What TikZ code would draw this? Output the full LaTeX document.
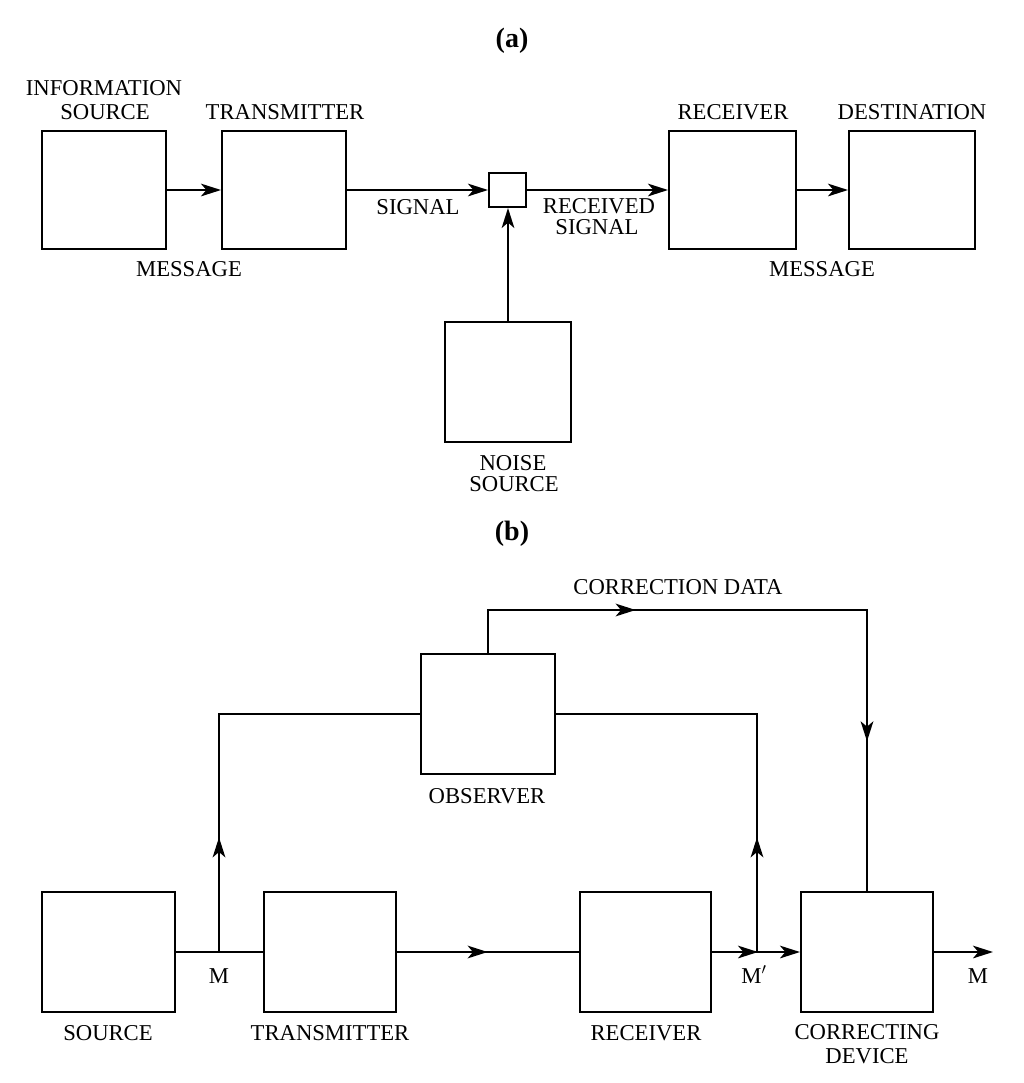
\documentclass[tikz,border=0pt]{standalone}
\usepackage{fontspec}
\setmainfont{Liberation Serif}
\usetikzlibrary{arrows.meta,decorations.markings}
\tikzset{
  arr/.tip={Stealth[length=15pt,width=9.5pt,inset=4pt]},
  conn/.style={line width=1.5pt},
  box/.style 2 args={draw,line width=1.5pt,inner sep=0pt,fill=white,
    minimum width=#1*0.75pt,minimum height=#2*0.75pt},
  lbl/.style={font=\fontsize{17}{22}\selectfont,inner sep=0pt,anchor=base},
  ttl/.style={font=\fontsize{21}{25}\selectfont\bfseries,inner sep=0pt,anchor=base},
  midarrow/.style={postaction={decorate,decoration={markings,
      mark=at position #1 with {\arrow{arr}}}}}
}
\begin{document}
\begin{tikzpicture}[x=0.75pt,y=-0.75pt]
\useasboundingbox[fill=white] (0,0) rectangle (1024,1083);
% ---------- (a) ----------
\node[ttl] (ta) at (512,47) {(a)};
\node[box={124}{118}] (is) at (104,190) {};
\node[box={124}{118}] (tr) at (284,190) {};
\node[box={37}{34}] (sm) at (507.5,190) {};
\node[box={127}{118}] (rc) at (732.5,190) {};
\node[box={126}{118}] (ds) at (912,190) {};
\node[box={126}{120}] (ns) at (508,382) {};

\node[lbl] (l1) at (104,95) {INFORMATION};
\node[lbl] (l2) at (105,119) {SOURCE};
\node[lbl] (l3) at (285,119) {TRANSMITTER};
\node[lbl] (l4) at (733,119) {RECEIVER};
\node[lbl] (l5) at (912,119) {DESTINATION};
\node[lbl] (l6) at (189,276) {MESSAGE};
\node[lbl] (l7) at (418,214) {SIGNAL};
\node[lbl] (l8) at (599,213) {RECEIVED};
\node[lbl] (l9) at (597,234) {SIGNAL};
\node[lbl] (l10) at (822,276) {MESSAGE};
\node[lbl] (l11) at (513,470) {NOISE};
\node[lbl] (l12) at (514,491) {SOURCE};

\draw[conn,-arr] (is) -- (tr);
\draw[conn,-arr] (tr) -- (sm);
\draw[conn,-arr] (sm) -- (rc);
\draw[conn,-arr] (rc) -- (ds);
\draw[conn,-arr] (ns.north) -- (ns.north |- sm.south);

% ---------- (b) ----------
\node[ttl] (tb) at (512,540) {(b)};
\node[box={133}{120}] (src) at (108.5,952) {};
\node[box={132}{120}] (tx) at (330,952) {};
\node[box={131}{120}] (rx) at (645.5,952) {};
\node[box={132}{120}] (cd) at (867,952) {};
\node[box={134}{120}] (ob) at (488,714) {};

\coordinate (jm) at (219,952);
\coordinate (jm2) at (757,952);
\coordinate (out) at (993,952);
\coordinate (ctop) at (867,610);

\node[lbl] (m1) at (108,1040) {SOURCE};
\node[lbl] (m2) at (330,1040) {TRANSMITTER};
\node[lbl] (m3) at (646,1040) {RECEIVER};
\node[lbl] (m4) at (867,1039) {CORRECTING};
\node[lbl] (m5) at (867,1063) {DEVICE};
\node[lbl] (m6) at (487,803) {OBSERVER};
\node[lbl] (m7) at (678,594) {CORRECTION DATA};
\node[lbl] (m8) at (219,983) {M};
\node[lbl] (m9) at (754,983) {M$^{\prime}$};
\node[lbl] (m10) at (978,983) {M};

\draw[conn] (src) -- (tx);
\draw[conn,midarrow=68pt] (tx) -- (rx);
\draw[conn,-arr,midarrow=34.5pt] (rx) -- (cd);
\draw[conn,-arr] (cd) -- (out);
\draw[conn,midarrow=86pt] (jm) -- (jm |- ob.west) -- (ob.west);
\draw[conn,midarrow=86pt] (jm2) -- (jm2 |- ob.east) -- (ob.east);
\draw[conn,midarrow=143pt,midarrow=415pt] (ob.north) |- (ctop) -- (cd.north);
\end{tikzpicture}
\end{document}
